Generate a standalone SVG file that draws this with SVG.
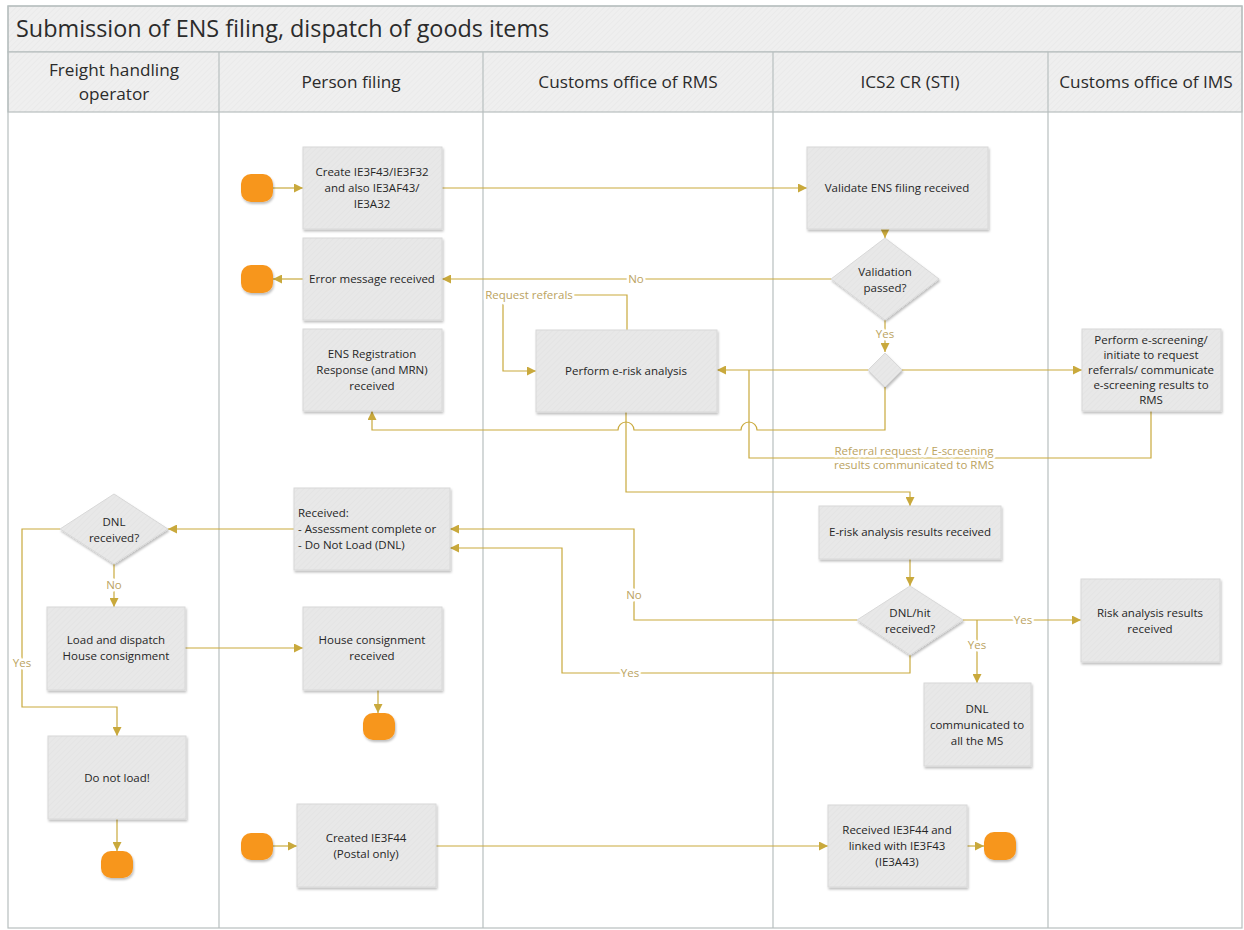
<svg xmlns="http://www.w3.org/2000/svg" width="1244" height="930" viewBox="0 0 1244 930">
  <style>
    .frame { fill: none; stroke: #b7bfbf; stroke-width: 1.2; }
    .band { fill: url(#hatchBand); stroke: #b7bfbf; stroke-width: 1.2; }
    .lane { stroke: #b7bfbf; stroke-width: 1.2; }
    .title { font-family: "Open Sans", "Noto Sans", sans-serif; font-size: 23.4px; fill: #2b2b2b; }
    .head { font-family: "Open Sans", "Noto Sans", sans-serif; font-size: 17.2px; fill: #2b2b2b; text-anchor: middle; }
    .box { fill: url(#hatchNode); stroke: #d8d8d8; stroke-width: 1; filter: url(#shadow); }
    .term { fill: #f7961f; filter: url(#shadow); }
    .t { font-family: "Open Sans", "Noto Sans", sans-serif; font-size: 11.5px; fill: #262626; text-anchor: middle; }
    .tl { font-family: "Open Sans", "Noto Sans", sans-serif; font-size: 11.5px; fill: #262626; }
    .conn { fill: none; stroke: #c9a93c; stroke-width: 1.2; }
    .arrow { marker-end: url(#arrowHead); }
    .lbl { font-family: "Open Sans", "Noto Sans", sans-serif; font-size: 11.5px; fill: #bba35f; text-anchor: middle; stroke: #ffffff; stroke-width: 5; paint-order: stroke; stroke-linejoin: round; }
  </style>
  <defs>
    <pattern id="hatchNode" width="4" height="4" patternUnits="userSpaceOnUse" patternTransform="rotate(45)">
      <rect width="4" height="4" fill="#e8e8e8"/>
      <line x1="0" y1="0" x2="0" y2="4" stroke="#e2e2e2" stroke-width="1.2"/>
    </pattern>
    <pattern id="hatchBand" width="4" height="4" patternUnits="userSpaceOnUse" patternTransform="rotate(45)">
      <rect width="4" height="4" fill="#efefef"/>
      <line x1="0" y1="0" x2="0" y2="4" stroke="#e8e8e8" stroke-width="1.2"/>
    </pattern>
    <filter id="shadow" x="-20%" y="-20%" width="140%" height="150%">
      <feDropShadow dx="1" dy="2" stdDeviation="1.3" flood-color="#000000" flood-opacity="0.25"/>
    </filter>
    <marker id="arrowHead" viewBox="0 0 10 10" refX="10" refY="5" markerWidth="9" markerHeight="9" markerUnits="userSpaceOnUse" orient="auto">
      <path d="M0,0 L10,5 L0,10 Z" fill="#c9a93c"/>
    </marker>
  </defs>

  <!-- pool frame, title band and lane headers -->
  <g id="pool">
    <rect x="8" y="6" width="1234" height="46" class="band"/>
    <rect x="8" y="52" width="1234" height="60" class="band"/>
    <rect x="8" y="6" width="1234" height="922" class="frame"/>
    <line x1="219" y1="52" x2="219" y2="928" class="lane"/>
    <line x1="483" y1="52" x2="483" y2="928" class="lane"/>
    <line x1="773" y1="52" x2="773" y2="928" class="lane"/>
    <line x1="1048" y1="52" x2="1048" y2="928" class="lane"/>
    <text x="16" y="37" class="title">Submission of ENS filing, dispatch of goods items</text>
    <text x="114" y="76" class="head">Freight handling</text>
    <text x="114" y="100" class="head">operator</text>
    <text x="351" y="88" class="head">Person filing</text>
    <text x="628" y="88" class="head">Customs office of RMS</text>
    <text x="910" y="88" class="head">ICS2 CR (STI)</text>
    <text x="1146" y="88" class="head">Customs office of IMS</text>
  </g>

  <!-- connectors -->
  <g id="connectors">
    <path class="conn arrow" d="M273,188 H303"/>
    <path class="conn arrow" d="M442,188 H807"/>
    <path class="conn arrow" d="M885,229 V238"/>
    <path class="conn arrow" d="M831,279 H442"/>
    <path class="conn arrow" d="M303,279 H273"/>
    <path class="conn arrow" d="M885,320 V352"/>
    <path class="conn arrow" d="M868,370 H717"/>
    <path class="conn arrow" d="M902,370 H1082"/>
    <path class="conn arrow" d="M627,330 V295 H503 V371 H536"/>
    <path class="conn arrow" d="M885,387 V430 H757 A8,8 0 0 0 741,430 H634 A8,8 0 0 0 618,430 H372 V411"/>
    <path class="conn" d="M1151,411 V458 H749 V370"/>
    <path class="conn arrow" d="M626,412 V492 H910 V506"/>
    <path class="conn arrow" d="M910,559 V586"/>
    <path class="conn arrow" d="M857,620 H634 V529 H450"/>
    <path class="conn arrow" d="M910,655 V673 H562 V548 H450"/>
    <path class="conn arrow" d="M963,620 H1081"/>
    <path class="conn arrow" d="M977,620 V683"/>
    <path class="conn arrow" d="M294,529 H168"/>
    <path class="conn arrow" d="M114,564 V607"/>
    <path class="conn arrow" d="M60,529 H22 V707 H117 V736"/>
    <path class="conn arrow" d="M185,648 H303"/>
    <path class="conn arrow" d="M378,690 V713"/>
    <path class="conn arrow" d="M117,819 V851"/>
    <path class="conn arrow" d="M273,846 H297"/>
    <path class="conn arrow" d="M436,846 H828"/>
    <path class="conn arrow" d="M967,846 H984"/>

    <text x="636" y="283" class="lbl">No</text>
    <text x="885" y="338" class="lbl">Yes</text>
    <text x="529" y="299" class="lbl">Request referals</text>
    <text x="914" y="455" class="lbl">Referral request / E-screening</text>
    <text x="914" y="469" class="lbl">results communicated to RMS</text>
    <text x="634" y="599" class="lbl">No</text>
    <text x="630" y="677" class="lbl">Yes</text>
    <text x="1023" y="624" class="lbl">Yes</text>
    <text x="977" y="649" class="lbl">Yes</text>
    <text x="114" y="589" class="lbl">No</text>
    <text x="22" y="667" class="lbl">Yes</text>
  </g>

  <!-- terminals -->
  <g id="start-filing"><rect x="241" y="174" width="32" height="28" rx="10" class="term"/></g>
  <g id="end-error"><rect x="241" y="265" width="32" height="28" rx="10" class="term"/></g>
  <g id="end-house"><rect x="363" y="713" width="32" height="27" rx="10" class="term"/></g>
  <g id="end-dnl"><rect x="101" y="851" width="32" height="27" rx="10" class="term"/></g>
  <g id="start-postal"><rect x="241" y="833" width="32" height="27" rx="10" class="term"/></g>
  <g id="end-postal"><rect x="984" y="832" width="32" height="28" rx="10" class="term"/></g>

  <!-- Person filing lane -->
  <g id="create-ens">
    <rect x="303" y="147" width="139" height="82" class="box"/>
    <text x="372" y="176" class="t">Create IE3F43/IE3F32</text>
    <text x="372" y="192" class="t">and also IE3AF43/</text>
    <text x="372" y="208" class="t">IE3A32</text>
  </g>
  <g id="error-received">
    <rect x="303" y="238" width="139" height="82" class="box"/>
    <text x="372" y="283" class="t">Error message received</text>
  </g>
  <g id="ens-registration">
    <rect x="303" y="329" width="139" height="82" class="box"/>
    <text x="372" y="358" class="t">ENS Registration</text>
    <text x="372" y="374" class="t">Response (and MRN)</text>
    <text x="372" y="390" class="t">received</text>
  </g>
  <g id="assessment-received">
    <rect x="294" y="488" width="156" height="82" class="box"/>
    <text x="298" y="517" class="tl">Received:</text>
    <text x="298" y="533" class="tl">- Assessment complete or</text>
    <text x="298" y="549" class="tl">- Do Not Load (DNL)</text>
  </g>
  <g id="house-received">
    <rect x="303" y="607" width="139" height="83" class="box"/>
    <text x="372" y="644" class="t">House consignment</text>
    <text x="372" y="660" class="t">received</text>
  </g>
  <g id="created-ie3f44">
    <rect x="297" y="804" width="139" height="83" class="box"/>
    <text x="366" y="842" class="t">Created IE3F44</text>
    <text x="366" y="858" class="t">(Postal only)</text>
  </g>

  <!-- Customs office of RMS lane -->
  <g id="e-risk-analysis">
    <rect x="536" y="330" width="181" height="82" class="box"/>
    <text x="626" y="375" class="t">Perform e-risk analysis</text>
  </g>

  <!-- ICS2 CR lane -->
  <g id="validate-ens">
    <rect x="807" y="147" width="181" height="82" class="box"/>
    <text x="897" y="192" class="t">Validate ENS filing received</text>
  </g>
  <g id="validation-passed">
    <polygon points="885,238 939,279 885,320 831,279" class="box"/>
    <text x="885" y="276" class="t">Validation</text>
    <text x="885" y="292" class="t">passed?</text>
  </g>
  <g id="split">
    <polygon points="885,353 902,370 885,387 868,370" class="box"/>
  </g>
  <g id="risk-results-received">
    <rect x="819" y="506" width="182" height="53" class="box"/>
    <text x="910" y="536" class="t">E-risk analysis results received</text>
  </g>
  <g id="dnl-hit">
    <polygon points="910,586 963,620 910,655 857,620" class="box"/>
    <text x="910" y="617" class="t">DNL/hit</text>
    <text x="910" y="633" class="t">received?</text>
  </g>
  <g id="dnl-communicated">
    <rect x="924" y="683" width="107" height="83" class="box"/>
    <text x="977" y="713" class="t">DNL</text>
    <text x="977" y="729" class="t">communicated to</text>
    <text x="977" y="745" class="t">all the MS</text>
  </g>
  <g id="received-ie3f44">
    <rect x="828" y="805" width="139" height="82" class="box"/>
    <text x="897" y="834" class="t">Received IE3F44 and</text>
    <text x="897" y="850" class="t">linked with IE3F43</text>
    <text x="897" y="866" class="t">(IE3A43)</text>
  </g>

  <!-- Customs office of IMS lane -->
  <g id="e-screening">
    <rect x="1082" y="329" width="139" height="82" class="box"/>
    <text x="1151" y="344" class="t">Perform e-screening/</text>
    <text x="1151" y="359" class="t">initiate to request</text>
    <text x="1151" y="374" class="t">referrals/ communicate</text>
    <text x="1151" y="389" class="t">e-screening results to</text>
    <text x="1151" y="404" class="t">RMS</text>
  </g>
  <g id="risk-analysis-received">
    <rect x="1081" y="579" width="139" height="83" class="box"/>
    <text x="1150" y="617" class="t">Risk analysis results</text>
    <text x="1150" y="633" class="t">received</text>
  </g>

  <!-- Freight handling operator lane -->
  <g id="dnl-received">
    <polygon points="114,494 168,529 114,564 60,529" class="box"/>
    <text x="114" y="526" class="t">DNL</text>
    <text x="114" y="542" class="t">received?</text>
  </g>
  <g id="load-dispatch">
    <rect x="47" y="607" width="138" height="83" class="box"/>
    <text x="116" y="644" class="t">Load and dispatch</text>
    <text x="116" y="660" class="t">House consignment</text>
  </g>
  <g id="do-not-load">
    <rect x="48" y="736" width="138" height="83" class="box"/>
    <text x="117" y="782" class="t">Do not load!</text>
  </g>
</svg>
